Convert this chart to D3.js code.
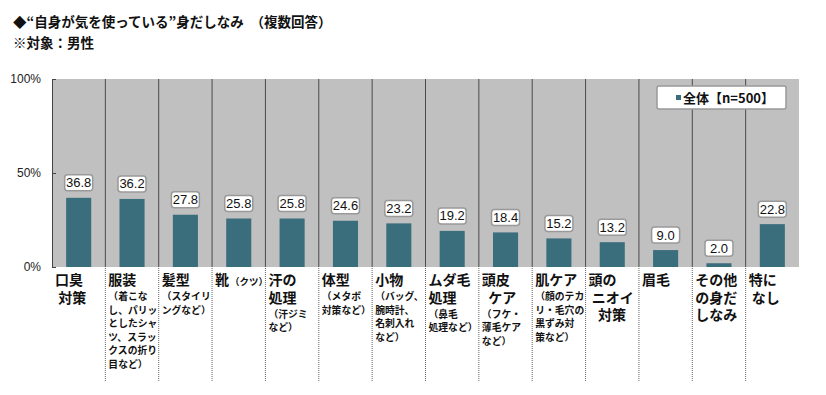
<!DOCTYPE html>
<html>
<head>
<meta charset="utf-8">
<script src="https://cdn.jsdelivr.net/npm/d3@7"></script>
<style>
  body { margin: 0; background: #fff; }
  svg { display: block; font-family: 'Noto Sans CJK JP', 'Noto Sans', sans-serif; }
</style>
</head>
<body>
<div id="chart"></div>
<script>
const titleText = '◆“自身が気を使っている”身だしなみ　（複数回答）'
const subtitleText = '※対象：男性'
const legendLabel = '全体【n=500】'

const categories = ['口臭対策', '服装', '髪型', '靴', '汗の処理', '体型', '小物',
  'ムダ毛処理', '頭皮ケア', '肌ケア', '頭のニオイ対策', '眉毛', 'その他の身だしなみ', '特になし']
const values = [36.8, 36.2, 27.8, 25.8, 25.8, 24.6, 23.2, 19.2, 18.4, 15.2, 13.2, 9.0, 2.0, 22.8]

// category label lines (big) and note lines (small)
const nameLines = [
  ['口臭', '\u00a0対策'], ['服装'], ['髪型'], ['靴'], ['汗の', '処理'], ['体型'], ['小物'],
  ['ムダ毛', '処理'], ['頭皮', '\u00a0\u00a0ケア'], ['肌ケア'], ['頭の', '\u00a0ニオイ', '\u00a0\u00a0\u00a0対策'],
  ['眉毛'], ['その他', 'の身だ', 'しなみ'], ['特に', '\u00a0なし']
]
const noteLines = [
  [], ['（着こな', 'し、パリッ', 'としたシャ', 'ツ、スラッ', 'クスの折り', '目など）'],
  ['（スタイリ', 'ングなど）'], ['（クツ）'], ['（汗ジミ', 'など）'], ['（メタボ', '対策など）'],
  ['（バッグ、', '腕時計、', '名刺入れ', 'など）'], ['（鼻毛', '処理など）'],
  ['（フケ・', '薄毛ケア', 'など）'], ['（顔のテカ', 'リ・毛穴の', '黒ずみ対', '策など）'],
  [], [], [], []
]
const yTicks = [0, 50, 100]

const draw = function () {
  const width = 826
  const height = 395
  const plot = { left: 52, right: 799, top: 79, bottom: 267 }
  const barColor = '#3b6e7d'

  const svg = d3.select('#chart')
    .append('svg')
    .attr('width', width)
    .attr('height', height)

  // titles
  svg.append('text')
    .attr('x', 13).attr('y', 27)
    .style('font-size', '13.5px').style('font-weight', 'bold').attr('fill', '#111')
    .text(titleText)
  svg.append('text')
    .attr('x', 13).attr('y', 48)
    .style('font-size', '13.5px').style('font-weight', 'bold').attr('fill', '#111')
    .text(subtitleText)

  const x = d3.scaleBand()
    .domain(categories)
    .range([plot.left, plot.right])
    .padding(0)

  const y = d3.scaleLinear()
    .domain([0, 100])
    .range([plot.bottom, plot.top])

  // plot background
  svg.append('rect')
    .attr('x', plot.left).attr('y', plot.top)
    .attr('width', plot.right - plot.left).attr('height', plot.bottom - plot.top)
    .attr('fill', '#c0c0c0')

  // category separators inside and below the plot
  const bounds = categories.slice(1).map(function (c) { return x(c) })
  svg.selectAll('line.sep')
    .data(bounds)
    .enter()
    .append('line')
    .attr('class', 'sep')
    .attr('x1', function (d) { return d }).attr('x2', function (d) { return d })
    .attr('y1', plot.top).attr('y2', plot.bottom)
    .attr('stroke', '#4a4a4a').attr('stroke-width', 1)
  svg.selectAll('line.sepLow')
    .data(bounds)
    .enter()
    .append('line')
    .attr('class', 'sepLow')
    .attr('x1', function (d) { return d }).attr('x2', function (d) { return d })
    .attr('y1', plot.bottom + 1).attr('y2', 382)
    .attr('stroke', '#666').attr('stroke-width', 1)
    .attr('stroke-dasharray', '1,1')

  // y axis
  const yAxis = svg.append('g')
    .attr('transform', 'translate(' + plot.left + ',0)')
    .call(d3.axisLeft(y).tickValues(yTicks).tickSizeInner(-4).tickSizeOuter(0)
      .tickPadding(11).tickFormat(function (d) { return d + '%' }))
  yAxis.select('.domain').attr('stroke', '#444')
  yAxis.selectAll('.tick line').attr('stroke', '#444')
  yAxis.selectAll('.tick text')
    .style('font-family', "'Liberation Sans', Arial, sans-serif")
    .style('font-size', '12px').attr('fill', '#222')

  // bars
  const barW = x.bandwidth() * 0.47
  svg.selectAll('rect.bar')
    .data(values)
    .enter()
    .append('rect')
    .attr('class', 'bar')
    .attr('x', function (d, i) { return x(categories[i]) + (x.bandwidth() - barW) / 2 })
    .attr('y', function (d) { return y(d) })
    .attr('width', barW)
    .attr('height', function (d) { return y(0) - y(d) })
    .attr('fill', barColor)

  // value labels
  const labels = svg.selectAll('g.val')
    .data(values)
    .enter()
    .append('g')
    .attr('class', 'val')
    .attr('transform', function (d, i) {
      return 'translate(' + (x(categories[i]) + x.bandwidth() / 2) + ',' + (y(d) - 15) + ')'
    })
  labels.append('rect')
    .attr('x', -14).attr('y', -8)
    .attr('width', 28).attr('height', 16)
    .attr('rx', 3)
    .attr('fill', '#fff').attr('stroke', '#999').attr('stroke-width', 1.5)
  labels.append('text')
    .attr('text-anchor', 'middle')
    .attr('y', 4.5)
    .style('font-family', "'Liberation Sans', Arial, sans-serif")
    .style('font-size', '13px').attr('fill', '#111')
    .text(function (d) { return d.toFixed(1) })

  // category labels: one text per category, lines as tspans
  const catText = svg.selectAll('text.cat')
    .data(categories)
    .enter()
    .append('text')
    .attr('class', 'cat')
    .attr('transform', function (d) { return 'translate(' + (x(d) + 3) + ',0)' })
    .style('font-weight', 'bold').attr('fill', '#111')

  catText.each(function (d, i) {
    const t = d3.select(this)
    const names = nameLines[i]
    const notes = noteLines[i]
    const inline = names.length === 1 && notes.length === 1
    names.forEach(function (line, j) {
      t.append('tspan')
        .attr('x', 0).attr('y', 285 + j * 17.5)
        .style('font-size', '14px')
        .text(line)
      if (inline) {
        t.append('tspan').attr('dx', 1).style('font-size', '9.5px').text(notes[0])
      }
    })
    if (!inline) {
      const start = 280 + (names.length - 1) * 17.5 + 16.5
      notes.forEach(function (line, j) {
        t.append('tspan')
          .attr('x', 0).attr('y', start + j * 13.5 + 3.5)
          .style('font-size', '9.8px')
          .text(line)
      })
    }
  })

  // legend
  const legend = svg.append('g').attr('transform', 'translate(657,86)')
  legend.append('rect')
    .attr('width', 129).attr('height', 23).attr('rx', 2)
    .attr('fill', '#fff').attr('stroke', '#999').attr('stroke-width', 1.5)
  legend.append('rect')
    .attr('x', 19).attr('y', 9).attr('width', 5).attr('height', 5)
    .attr('fill', barColor)
  legend.append('text')
    .attr('x', 26).attr('y', 16.5)
    .style('font-size', '13px').style('font-weight', 'bold').attr('fill', '#111')
    .text(legendLabel)
}

draw()
</script>
</body>
</html>
